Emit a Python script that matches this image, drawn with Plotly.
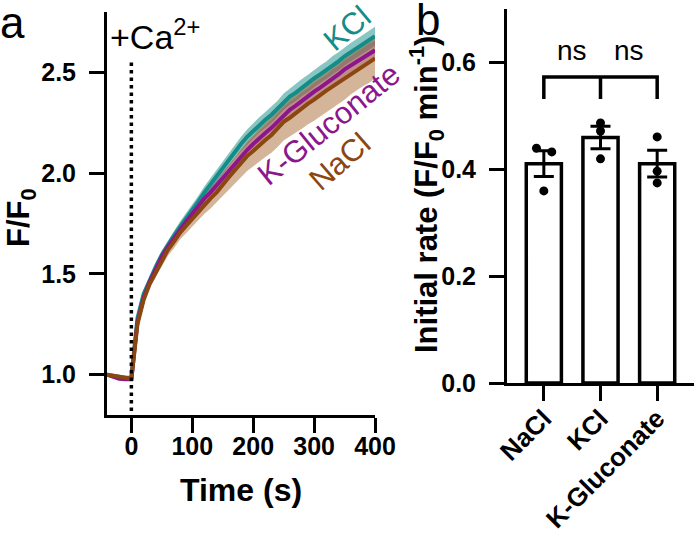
import plotly.graph_objects as go

# ---------------- Panel a data ----------------
time_s = [-40, -30, -20, -10, 0, 10, 20, 30, 40, 50, 60, 70, 80, 90, 100, 110, 120, 130, 140, 150,
          160, 170, 180, 190, 200, 210, 220, 230, 240, 250, 260, 270, 280, 290, 300, 310, 320, 330,
          340, 350, 360, 370, 380, 390, 400]

nacl_mean = [1.00, 0.995, 0.99, 0.985, 0.98, 1.25, 1.37, 1.45, 1.51, 1.565, 1.62, 1.66, 1.705, 1.74,
             1.775, 1.81, 1.845, 1.875, 1.905, 1.945, 1.98, 2.015, 2.05, 2.085, 2.11, 2.14, 2.165,
             2.19, 2.22, 2.255, 2.275, 2.3, 2.32, 2.345, 2.365, 2.39, 2.41, 2.43, 2.45, 2.47,
             2.495, 2.515, 2.535, 2.55, 2.57]
nacl_sem = [0.005, 0.005, 0.005, 0.005, 0.005, 0.012, 0.016, 0.02, 0.024, 0.027, 0.03, 0.032, 0.034,
            0.036, 0.038, 0.042, 0.046, 0.05, 0.054, 0.058, 0.062, 0.066, 0.07, 0.074, 0.078, 0.082,
            0.085, 0.088, 0.09, 0.093, 0.095, 0.098, 0.1, 0.102, 0.105, 0.107, 0.108, 0.108, 0.107,
            0.106, 0.105, 0.104, 0.103, 0.102, 0.1]

kcl_mean = [1.00, 0.995, 0.99, 0.985, 0.985, 1.28, 1.40, 1.47, 1.535, 1.595, 1.645, 1.69, 1.735,
            1.775, 1.82, 1.86, 1.905, 1.945, 1.99, 2.03, 2.07, 2.11, 2.145, 2.18, 2.21, 2.24, 2.265,
            2.29, 2.32, 2.355, 2.38, 2.4, 2.425, 2.445, 2.47, 2.49, 2.51, 2.535, 2.555, 2.58, 2.60,
            2.62, 2.64, 2.66, 2.68]
kcl_sem = [0.005, 0.005, 0.005, 0.005, 0.005, 0.012, 0.015, 0.018, 0.02, 0.021, 0.022, 0.023, 0.025,
           0.026, 0.027, 0.028, 0.03, 0.031, 0.032, 0.033, 0.034, 0.035, 0.036, 0.037, 0.038, 0.038,
           0.039, 0.04, 0.04, 0.041, 0.041, 0.042, 0.042, 0.043, 0.043, 0.044, 0.044, 0.045, 0.045,
           0.045, 0.046, 0.046, 0.046, 0.047, 0.047]

kgluc_mean = [1.00, 0.99, 0.98, 0.978, 0.978, 1.26, 1.38, 1.46, 1.525, 1.585, 1.635, 1.68, 1.72,
              1.76, 1.80, 1.835, 1.875, 1.905, 1.94, 1.975, 2.01, 2.05, 2.08, 2.115, 2.145, 2.175, 2.2,
              2.225, 2.255, 2.29, 2.315, 2.335, 2.36, 2.38, 2.405, 2.425, 2.445, 2.47, 2.49, 2.515,
              2.535, 2.555, 2.575, 2.595, 2.61]
kgluc_sem = [0.005, 0.005, 0.005, 0.005, 0.005, 0.01, 0.014, 0.016, 0.018, 0.02, 0.021, 0.022, 0.023,
             0.024, 0.025, 0.026, 0.027, 0.028, 0.029, 0.03, 0.031, 0.032, 0.033, 0.034, 0.035, 0.036,
             0.037, 0.038, 0.039, 0.04, 0.04, 0.041, 0.042, 0.042, 0.043, 0.044, 0.044, 0.045, 0.045,
             0.046, 0.046, 0.047, 0.047, 0.048, 0.048]

time_ticks = [0, 100, 200, 300, 400]
time_tick_text = ["0", "100", "200", "300", "400"]
ff0_ticks = [1.0, 1.5, 2.0, 2.5]
ff0_tick_text = ["1.0", "1.5", "2.0", "2.5"]

# ---------------- Panel b data ----------------
categories = ["NaCl", "KCl", "K-Gluconate"]
rate_mean = [0.410, 0.459, 0.410]
rate_sem = [0.024, 0.021, 0.025]
rate_points = [[0.439, 0.432, 0.359], [0.486, 0.471, 0.419], [0.460, 0.396, 0.374]]
point_offsets = [[-0.13, 0.14, 0.0], [0.0, 0.0, 0.0], [0.0, 0.0, 0.0]]
rate_ticks = [0.0, 0.2, 0.4, 0.6]
rate_tick_text = ["0.0", "0.2", "0.4", "0.6"]
bracket_top = 0.572
bracket_bottom = 0.531
ns_labels = ["ns", "ns"]
ns_y = 0.622

TEAL = "rgb(20,140,135)"
PURPLE = "rgb(140,22,140)"
BROWN = "rgb(140,70,15)"
FONT = "Liberation Sans, Arial, Helvetica, sans-serif"

W, H = 696, 541


def px(x):
    return x / W


def py(y):
    return 1 - y / H


def bold(labels):
    return ["<b>" + s + "</b>" for s in labels]


fig = go.Figure()

series = [
    (kcl_mean, kcl_sem, TEAL, "rgba(20,140,135,0.5)"),
    (kgluc_mean, kgluc_sem, PURPLE, "rgba(140,22,140,0.3)"),
    (nacl_mean, nacl_sem, BROWN, "rgba(160,90,30,0.45)"),
]
for mean, sem, lc, fc in series:
    upper = [m + s for m, s in zip(mean, sem)]
    lower = [m - s for m, s in zip(mean, sem)]
    fig.add_trace(go.Scatter(x=time_s + time_s[::-1], y=upper + lower[::-1], fill="toself",
                             fillcolor=fc, line=dict(width=0), mode="lines", hoverinfo="skip",
                             showlegend=False, xaxis="x", yaxis="y"))
for mean, sem, lc, fc in series:
    fig.add_trace(go.Scatter(x=time_s, y=mean, mode="lines", line=dict(color=lc, width=4),
                             showlegend=False, xaxis="x", yaxis="y"))

# dotted stimulus line
fig.add_trace(go.Scatter(x=[0, 0], y=[0.82, 2.55], mode="lines",
                         line=dict(color="black", width=3.5, dash="3.5px,4px"),
                         showlegend=False, xaxis="x", yaxis="y"))

# ---------------- Panel b ----------------
xpos = list(range(len(categories)))
fig.add_trace(go.Bar(x=xpos, y=rate_mean, width=0.62,
                     marker=dict(color="white", line=dict(color="black", width=3.5)),
                     error_y=dict(type="data", array=rate_sem, color="black", thickness=3, width=10),
                     showlegend=False, xaxis="x2", yaxis="y2"))
dx, dy = [], []
for i, pts in enumerate(rate_points):
    for off, v in zip(point_offsets[i], pts):
        dx.append(xpos[i] + off)
        dy.append(v)
fig.add_trace(go.Scatter(x=dx, y=dy, mode="markers", marker=dict(color="black", size=9),
                         showlegend=False, xaxis="x2", yaxis="y2"))

# bracket
bx = [0, 0, 2, 2, None, 1, 1]
by = [bracket_bottom, bracket_top, bracket_top, bracket_bottom, None, bracket_top, bracket_bottom]
fig.add_trace(go.Scatter(x=bx, y=by, mode="lines", line=dict(color="black", width=3.5),
                         showlegend=False, xaxis="x2", yaxis="y2"))

tickfont = dict(family=FONT, size=25, color="black")
axis_common = dict(showline=True, linewidth=3, linecolor="black", ticks="outside", ticklen=15,
                   tickwidth=3, tickcolor="black", showgrid=False, zeroline=False,
                   tickfont=tickfont, fixedrange=True, automargin=False, tickmode="array")

fig.update_layout(
    template="none",
    font=dict(family=FONT, color="black"),
    width=W, height=H, margin=dict(l=0, r=0, t=0, b=0, pad=0, autoexpand=False),
    paper_bgcolor="white", plot_bgcolor="white", showlegend=False,
    xaxis=dict(domain=[px(107), px(375)], range=[-40, 400], tickvals=time_ticks,
               ticktext=bold(time_tick_text), anchor="y", ticklabelstandoff=-8, **axis_common),
    yaxis=dict(domain=[py(415), py(12)], range=[0.8, 2.8], tickvals=ff0_ticks,
               ticktext=bold(ff0_tick_text), anchor="x", ticklabelstandoff=8, **axis_common),
    xaxis2=dict(domain=[px(507), px(694)], range=[-0.65, 2.65], tickvals=xpos,
                ticktext=bold(categories), tickangle=-45, anchor="y2", ticklabelstandoff=-8,
                **{**axis_common, "tickfont": dict(family=FONT, size=26, color="black")}),
    yaxis2=dict(domain=[py(383), py(8.5)], range=[0, 0.7], tickvals=rate_ticks,
                ticktext=bold(rate_tick_text), anchor="x2", ticklabelstandoff=8, **axis_common),
)


def A(text, x, y, size, color="black", bold=False, angle=0, ref="paper", xanchor="center"):
    f = dict(family=FONT, size=size, color=color)
    if bold:
        f["weight"] = "bold"
    if ref == "paper":
        return dict(text=text, x=px(x), y=py(y), xref="paper", yref="paper", showarrow=False,
                    xanchor=xanchor, yanchor="middle", textangle=angle, font=f)
    xr, yr = ref
    return dict(text=text, x=x, y=y, xref=xr, yref=yr, showarrow=False,
                xanchor=xanchor, yanchor="middle", textangle=angle, font=f)


ann = [
    A("a", 12, 23, 44),
    A("b", 428, 19, 44),
    A("F/F<sub>0</sub>", 21, 218, 31, bold=True, angle=-90),
    A("Time (s)", 241, 490, 32, bold=True),
    A("Initial rate (F/F<sub>0</sub> min<sup>-1</sup>)", 426, 194, 31, bold=True, angle=-90),
    A("+Ca<sup>2+</sup>", -38, 2.69, 34, ref=("x", "y"), xanchor="left"),
    A("KCl", 354, 2.72, 31, color=TEAL, angle=-40, ref=("x", "y")),
    A("K-Gluconate", 324, 2.24, 31, color=PURPLE, angle=-39, ref=("x", "y")),
    A("NaCl", 342, 2.06, 31, color=BROWN, angle=-41, ref=("x", "y")),
]
for xx, t in zip([0.5, 1.5], ns_labels):
    ann.append(A(t, xx, ns_y, 28, ref=("x2", "y2")))
fig.update_layout(annotations=ann)

fig.write_html("out.html", config={"displayModeBar": False},
               post_script="document.body.style.margin='0';")
